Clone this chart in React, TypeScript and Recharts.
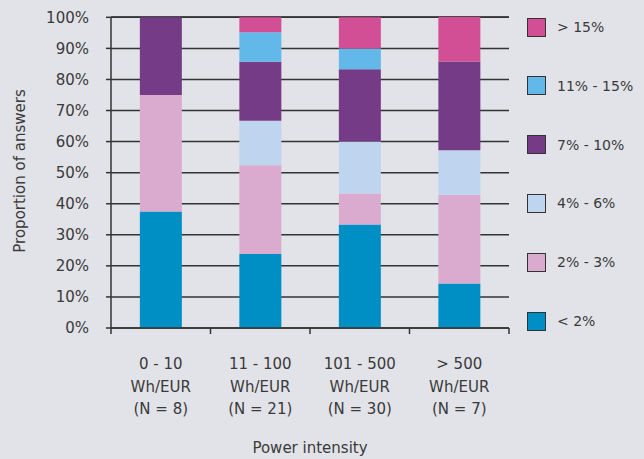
import React from 'react';
import { BarChart, Bar, XAxis, YAxis, CartesianGrid, Label } from 'recharts';

const categories = ['0 - 10|Wh/EUR|(N = 8)', '11 - 100|Wh/EUR|(N = 21)', '101 - 500|Wh/EUR|(N = 30)', '> 500|Wh/EUR|(N = 7)'];
const under2 = [37.5, 23.8, 33.3, 14.3];
const from2to3 = [37.5, 28.6, 10.0, 28.6];
const from4to6 = [0, 14.3, 16.7, 14.3];
const from7to10 = [25.0, 19.0, 23.3, 28.6];
const from11to15 = [0, 9.5, 6.7, 0];
const over15 = [0, 4.8, 10.0, 14.3];
const yTicks = [0, 10, 20, 30, 40, 50, 60, 70, 80, 90, 100];

const series = [
  { key: 'under2', name: '< 2%', color: '#008fc4', values: under2 },
  { key: 'from2to3', name: '2% - 3%', color: '#dbabcf', values: from2to3 },
  { key: 'from4to6', name: '4% - 6%', color: '#bfd5ef', values: from4to6 },
  { key: 'from7to10', name: '7% - 10%', color: '#763b87', values: from7to10 },
  { key: 'from11to15', name: '11% - 15%', color: '#62b8e8', values: from11to15 },
  { key: 'over15', name: '> 15%', color: '#d24f96', values: over15 },
];

const data = categories.map((c, i) => {
  const row: Record<string, string | number> = { cat: c };
  series.forEach((s) => (row[s.key] = s.values[i]));
  return row;
});

const W = 644;
const H = 459;
const LEFT = 111;
const RIGHT = 509;
const TOP = 17;
const BOTTOM = 328;
const FONT = '"DejaVu Sans", sans-serif';
const INK = '#333333';
const TEXT = '#3a3a3a';
const BG = '#e2e3e8';
const HALF_BAND = (RIGHT - LEFT) / categories.length / 2;

const XTick = (props: any) => {
  const { x, payload, index } = props;
  const lines = String(payload.value).split('|');
  return (
    <g>
      <line x1={x - HALF_BAND} x2={x - HALF_BAND} y1={BOTTOM} y2={BOTTOM + 6} stroke={INK} strokeWidth={1.5} />
      {index === categories.length - 1 && (
        <line x1={x + HALF_BAND} x2={x + HALF_BAND} y1={BOTTOM} y2={BOTTOM + 6} stroke={INK} strokeWidth={1.5} />
      )}
      {lines.map((l, i) => (
        <text key={i} x={x} y={BOTTOM + 41 + i * 22.5} textAnchor="middle" fill={TEXT} fontSize={15} fontFamily={FONT}>
          {l}
        </text>
      ))}
    </g>
  );
};

const LegendBox = () => (
  <div style={{ position: 'absolute', left: 527, top: 17, width: 117, height: 330 }}>
    {[...series].reverse().map((s, i) => (
      <div key={s.key} style={{ position: 'absolute', left: 0, top: i * 58.8, height: 20, display: 'flex', alignItems: 'center' }}>
        <div style={{ width: 17, height: 17, background: s.color, border: `1.5px solid ${INK}` }} />
        <span style={{ marginLeft: 11, fontSize: 14, color: TEXT, fontFamily: FONT, whiteSpace: 'nowrap' }}>{s.name}</span>
      </div>
    ))}
  </div>
);

export default function App() {
  return (
    <div style={{ position: 'absolute', left: 0, top: 0, width: W, height: H, background: BG }}>
      <BarChart
        width={W}
        height={H}
        data={data}
        margin={{ top: TOP, right: W - RIGHT, left: 0, bottom: 0 }}
        barCategoryGap="29%"
      >
        <CartesianGrid vertical={false} stroke={INK} strokeWidth={1.5} />
        <XAxis
          dataKey="cat"
          height={H - BOTTOM}
          tick={<XTick />}
          tickLine={false}
          axisLine={{ stroke: INK, strokeWidth: 1.5 }}
          interval={0}
        >
          <Label
            content={() => (
              <text x={(LEFT + RIGHT) / 2} y={453} textAnchor="middle" fill={TEXT} fontSize={15} fontFamily={FONT}>
                Power intensity
              </text>
            )}
          />
        </XAxis>
        <YAxis
          width={LEFT}
          domain={[0, 100]}
          ticks={yTicks}
          interval={0}
          tickFormatter={(v) => `${v}%`}
          tick={{ fill: TEXT, fontSize: 15, fontFamily: FONT }}
          tickSize={5}
          tickMargin={17}
          tickLine={{ stroke: INK, strokeWidth: 1.5 }}
          axisLine={{ stroke: INK, strokeWidth: 1.5 }}
        >
          <Label
            content={() => (
              <text
                x={20}
                y={171}
                transform="rotate(-90 20 171)"
                textAnchor="middle"
                dominantBaseline="central"
                fill={TEXT}
                fontSize={15}
                fontFamily={FONT}
              >
                Proportion of answers
              </text>
            )}
          />
        </YAxis>
        {series.map((s) => (
          <Bar key={s.key} dataKey={s.key} name={s.name} stackId="a" fill={s.color} isAnimationActive={false} />
        ))}
      </BarChart>
      <LegendBox />
    </div>
  );
}
